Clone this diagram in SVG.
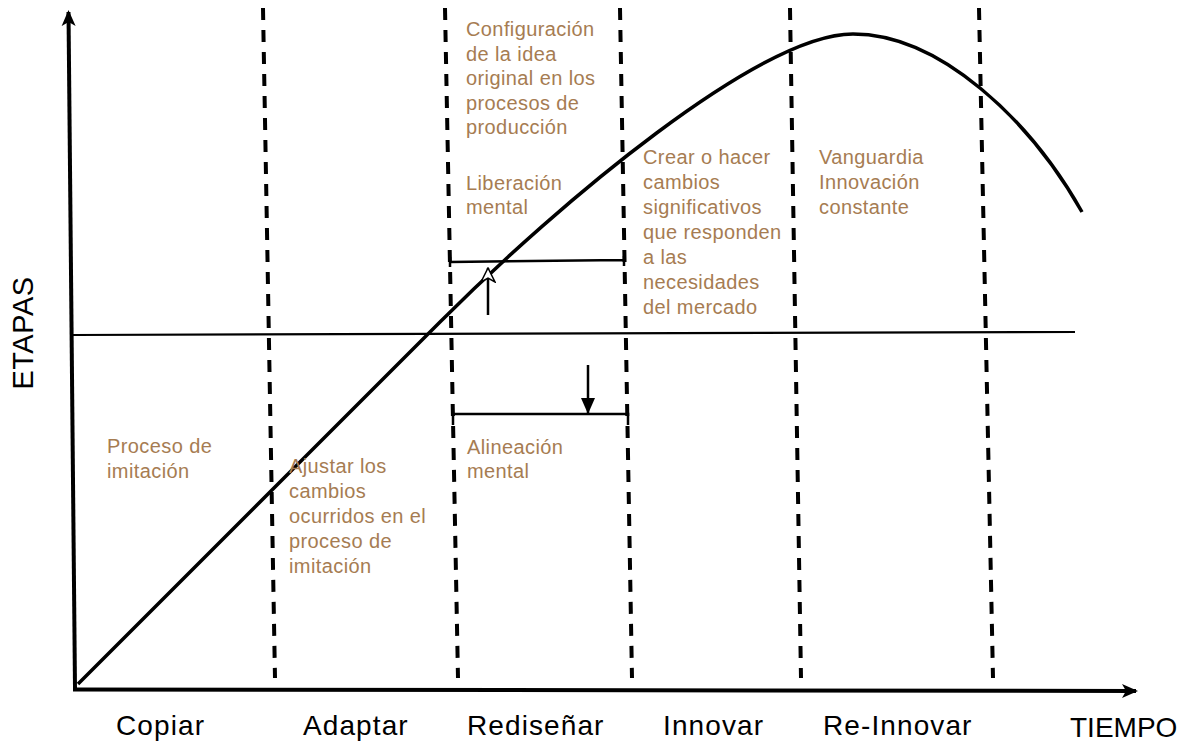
<svg xmlns="http://www.w3.org/2000/svg" width="1187" height="744" viewBox="0 0 1187 744">
<style>
.t{font-family:"Liberation Sans",Arial,sans-serif;font-size:20px;fill:#a67c52;letter-spacing:0.4px}
.l{font-family:"Liberation Sans",Arial,sans-serif;font-size:28px;fill:#000;letter-spacing:1.1px}
.dash{fill:none;stroke:#000;stroke-width:4;stroke-dasharray:12 10}
.ax{fill:none;stroke:#000;stroke-width:4}
.thin{fill:none;stroke:#000;stroke-width:2.5}
</style>
<defs>
<marker id="ah" markerUnits="userSpaceOnUse" viewBox="0 0 16 16" refX="14" refY="8" markerWidth="16" markerHeight="16" orient="auto">
<path d="M0,1 L16,8 L0,15 L4,8 Z" fill="#000"/>
</marker>
<marker id="open" markerUnits="userSpaceOnUse" viewBox="0 0 16 16" refX="15" refY="8" markerWidth="16" markerHeight="16" orient="auto">
<path d="M1,1 L15,8 L1,15 L5,8 Z" fill="#fff" stroke="#000" stroke-width="1.5"/>
</marker>
<marker id="tri" markerUnits="userSpaceOnUse" viewBox="0 0 16 16" refX="16" refY="8" markerWidth="16" markerHeight="16" orient="auto">
<path d="M0,1 L16,8 L0,15 Z" fill="#000"/>
</marker>
</defs>
<rect width="1187" height="744" fill="#fff"/>
<g id="axes">
<path class="ax" d="M75,688 L68.5,12" marker-end="url(#ah)"/>
<path class="ax" d="M73,689.5 L1136,691" marker-end="url(#ah)"/>
</g>
<g id="dividers">
<path class="dash" d="M263,8 L275,678"/>
<path class="dash" d="M445,8 L458,678"/>
<path class="dash" d="M620,8 L632,678"/>
<path class="dash" d="M790,8 L801,678"/>
<path class="dash" d="M979,8 L993,678"/>
</g>
<g id="midline">
<path d="M73,335 L1075,332" fill="none" stroke="#000" stroke-width="2.2"/>
</g>
<g id="curve">
<path d="M78,684 L440,322 C560,202 760,34 853,34 C940,34 1030,120 1082,212" fill="none" stroke="#000" stroke-width="3.5"/>
</g>
<g id="connectors">
<path class="thin" d="M450,257 V267 M450,262 L624,260 M624,256 V266"/>
<path class="thin" d="M488,315 L488,268" stroke-width="2" marker-end="url(#open)"/>
<path class="thin" d="M453,425 V414 L628,414 V425"/>
<path class="thin" d="M588,365 L588,414" stroke-width="2" marker-end="url(#tri)"/>
</g>
<g id="ylabel">
<text class="l" transform="translate(33,333) rotate(-90)" text-anchor="middle" style="font-size:29px;letter-spacing:0.5px">ETAPAS</text>
</g>
<g id="stage-labels">
<text class="l" x="116" y="735">Copiar</text>
<text class="l" x="303" y="735">Adaptar</text>
<text class="l" x="467" y="735">Rediseñar</text>
<text class="l" x="663" y="735">Innovar</text>
<text class="l" x="823" y="735">Re-Innovar</text>
<text class="l" x="1070" y="737" style="letter-spacing:0">TIEMPO</text>
</g>
<g id="copiar-text">
<text class="t" x="107" y="453">Proceso de</text>
<text class="t" x="107" y="478">imitación</text>
</g>
<g id="adaptar-text">
<text class="t" x="289" y="473">Ajustar los</text>
<text class="t" x="289" y="498">cambios</text>
<text class="t" x="289" y="523">ocurridos en el</text>
<text class="t" x="289" y="548">proceso de</text>
<text class="t" x="289" y="573">imitación</text>
</g>
<g id="redisenar-text">
<text class="t" x="466" y="36">Configuración</text>
<text class="t" x="466" y="60.5">de la idea</text>
<text class="t" x="466" y="85">original en los</text>
<text class="t" x="466" y="109.5">procesos de</text>
<text class="t" x="466" y="134">producción</text>
<text class="t" x="466" y="190">Liberación</text>
<text class="t" x="466" y="214">mental</text>
<text class="t" x="467" y="454">Alineación</text>
<text class="t" x="467" y="478">mental</text>
</g>
<g id="innovar-text">
<text class="t" x="643" y="164">Crear o hacer</text>
<text class="t" x="643" y="189">cambios</text>
<text class="t" x="643" y="214">significativos</text>
<text class="t" x="643" y="239">que responden</text>
<text class="t" x="643" y="264">a las</text>
<text class="t" x="643" y="289">necesidades</text>
<text class="t" x="643" y="314">del mercado</text>
</g>
<g id="reinnovar-text">
<text class="t" x="819" y="164">Vanguardia</text>
<text class="t" x="819" y="189">Innovación</text>
<text class="t" x="819" y="214">constante</text>
</g>
</svg>
